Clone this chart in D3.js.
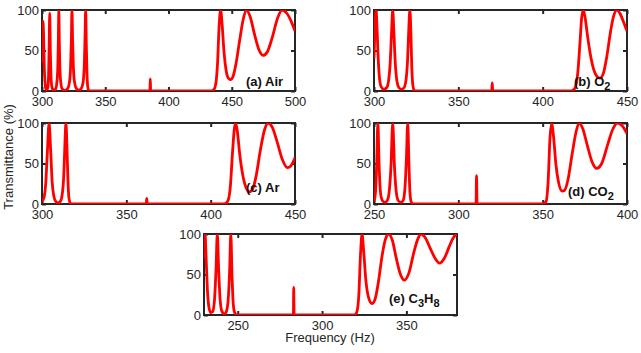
<!DOCTYPE html>
<html>
<head>
<meta charset="utf-8">
<script src="https://cdn.jsdelivr.net/npm/d3@7/dist/d3.min.js"></script>
<style>
  body { margin: 0; background: #fff; }
  svg { display: block; font-family: "Liberation Sans", Arial, sans-serif; }
</style>
</head>
<body>
<svg id="chart" width="641" height="353"></svg>
<script>
// Transmittance (%) vs frequency (Hz), one array per gas.
const airData = [
  [300, 35], [300.4, 72], [300.8, 86], [301.2, 72], [301.7, 35], [302.3, 12], [303, 3], [303.6, 1.5],
  [304.4, 3], [305.1, 15], [305.6, 50], [306.1, 96], [306.6, 50], [307.2, 15], [308, 4], [309.2, 1],
  [310.6, 2], [311.7, 10], [312.5, 30], [312.9, 60], [313.3, 100], [313.7, 60], [314.1, 30],
  [314.9, 10], [316, 2.5], [318, 0.8],
  [320.3, 3], [321.6, 10], [322.6, 30], [323.2, 62], [323.7, 100], [324.2, 62], [324.8, 30],
  [325.8, 10], [327.2, 3], [329, 1],
  [331, 3], [332.4, 10], [333.4, 30], [334, 65], [334.5, 100], [335, 60], [335.5, 25],
  [336.1, 6], [336.8, 1], [337.8, 0],
  [385.3, 0], [385.6, 15], [385.9, 0],
  [434, 0], [436, 2], [437.5, 10], [438.8, 35], [440, 80], [441.2, 100], [442.4, 82],
  [443.7, 52], [445.3, 28], [447.2, 16], [449, 14], [451, 18], [453.5, 35], [456.3, 63],
  [459, 88], [461.7, 100], [464.5, 92], [468, 70], [471.5, 51], [474.7, 44], [478, 48],
  [482, 66], [486, 89], [489.7, 100], [493.5, 96], [497, 86], [500, 74]
];
const o2Data = [
  [300, 40], [300.6, 80], [301.2, 100], [301.8, 78], [302.5, 40], [303.3, 15], [304.3, 5], [305.8, 2],
  [307.5, 4], [308.6, 12], [309.6, 35], [310.4, 72], [311.1, 100], [311.8, 72], [312.6, 35],
  [313.6, 12], [314.8, 4], [316.3, 2],
  [317.8, 4], [319, 14], [319.9, 38], [320.6, 75], [321.3, 100], [321.9, 70], [322.4, 30],
  [323, 8], [323.8, 1], [324.8, 0],
  [369.8, 0], [370.1, 10], [370.4, 0],
  [417, 0], [419, 3], [420.8, 22], [422.2, 62], [423.1, 90], [424.1, 100], [425.2, 90],
  [426.6, 68], [428.2, 46], [430.2, 27], [432.2, 18], [434, 16], [436, 22], [438, 42],
  [440, 70], [442, 92], [444, 100], [446, 95], [448, 85], [450, 74]
];
const arData = [
  [300, 3], [301.2, 8], [302.2, 25], [303.2, 65], [304.2, 100], [305.1, 68], [306, 28],
  [307, 10], [308.2, 3], [309.5, 1.5],
  [310.8, 3], [312, 12], [312.9, 35], [313.6, 75], [314.2, 100], [314.8, 70], [315.4, 28],
  [316, 7], [316.8, 1], [317.8, 0],
  [361.8, 0], [362.1, 7], [362.4, 0],
  [408, 0], [410, 3], [411.6, 20], [413, 65], [414, 92], [414.8, 100], [415.8, 90],
  [417.2, 62], [419, 36], [421, 20], [423, 15], [425, 19], [427, 35], [429.5, 67],
  [432, 92], [434, 100], [436.5, 95], [439.5, 76], [442.5, 55], [445.5, 45], [447.5, 47],
  [450, 57]
];
const co2Data = [
  [250, 3], [250.9, 15], [251.6, 50], [252.3, 100], [253, 50], [253.8, 15], [255, 4], [256.5, 2],
  [257.8, 4], [259, 15], [260.1, 48], [261.1, 100], [262.1, 48], [263.2, 15], [264.4, 4], [265.9, 2],
  [267.2, 4], [268.3, 18], [269.2, 55], [270, 100], [270.7, 50], [271.3, 15], [272, 3], [273, 0],
  [310.5, 0], [310.8, 35], [311.1, 0],
  [350, 0], [352, 3], [353.3, 30], [354.3, 80], [355.4, 100], [356.5, 82], [357.8, 50],
  [359.3, 28], [361.5, 16], [363, 17], [365, 30], [367.5, 62], [369.7, 88], [371.6, 100],
  [373.8, 93], [376.5, 72], [379.3, 52], [382, 44], [385, 50], [388.5, 73], [391.5, 92],
  [394.3, 100], [397, 97], [400, 87]
];
const c3h8Data = [
  [230, 70], [230.6, 100], [231.3, 68], [232, 32], [232.9, 10], [234, 3],
  [235.1, 4], [236.2, 18], [237.1, 55], [237.9, 100], [238.7, 55], [239.6, 18], [240.7, 4], [242, 1.5],
  [243.2, 4], [244.3, 18], [245.2, 55], [245.9, 100], [246.6, 50], [247.3, 15], [248.2, 3], [249.5, 0],
  [283, 0], [283.2, 34], [283.4, 0],
  [319, 0], [320.5, 3], [321.8, 25], [322.8, 75], [323.7, 100], [324.7, 78], [326, 42],
  [327.5, 22], [329.6, 14], [331.5, 20], [333.5, 42], [335.5, 72], [337.5, 93], [339.5, 100],
  [341.7, 92], [344, 70], [346.5, 50], [348.8, 43], [351.5, 52], [354.5, 78], [356.8, 94],
  [358.7, 100], [361, 96], [364, 83], [367, 70], [369.6, 64], [372.5, 70], [375.5, 85],
  [378, 96], [380, 100]
];

const yTicks = [0, 50, 100];
const ticksA = [300, 350, 400, 450, 500];
const ticksB = [300, 350, 400, 450];
const ticksD = [250, 300, 350, 400];
const ticksE = [250, 300, 350];

// panel labels: [text, isSubscript]
const labelA = [["(a) Air", false]];
const labelB = [["(b) O", false], ["2", true]];
const labelC = [["(c) Ar", false]];
const labelD = [["(d) CO", false], ["2", true]];
const labelE = [["(e) C", false], ["3", true], ["H", false], ["8", true]];

const W = 253, H = 81;
const axisColor = "#262626";

const panels = [
  { data: airData,  domain: [300, 500], ticks: ticksA, label: labelA, x: 42,  y: 10,  lx: 204, ly: 76 },
  { data: o2Data,   domain: [300, 450], ticks: ticksB, label: labelB, x: 374, y: 10,  lx: 200, ly: 76 },
  { data: arData,   domain: [300, 450], ticks: ticksB, label: labelC, x: 42,  y: 123, lx: 204, ly: 69 },
  { data: co2Data,  domain: [250, 400], ticks: ticksD, label: labelD, x: 374, y: 123, lx: 194, ly: 73 },
  { data: c3h8Data, domain: [230, 380], ticks: ticksE, label: labelE, x: 204, y: 234, lx: 185, ly: 69 }
];

const svg = d3.select("#chart");

panels.forEach((p, i) => {
  const g = svg.append("g").attr("transform", `translate(${p.x},${p.y})`);
  const x = d3.scaleLinear().domain(p.domain).range([0, W]);
  const y = d3.scaleLinear().domain([0, 100]).range([H, 0]);

  g.append("clipPath").attr("id", "clip" + i)
    .append("rect").attr("width", W).attr("height", H);

  g.append("rect")
    .attr("width", W).attr("height", H)
    .attr("fill", "none")
    .attr("stroke", axisColor)
    .attr("stroke-width", 2);

  // inward ticks on all four sides, labels only bottom/left
  const axes = [
    g.append("g").attr("transform", `translate(0,${H})`)
      .call(d3.axisBottom(x).tickValues(p.ticks).tickSizeInner(-4).tickSizeOuter(0).tickPadding(6)),
    g.append("g")
      .call(d3.axisTop(x).tickValues(p.ticks).tickSizeInner(-4).tickSizeOuter(0).tickFormat("")),
    g.append("g")
      .call(d3.axisLeft(y).tickValues(yTicks).tickSizeInner(-4).tickSizeOuter(0).tickPadding(3)),
    g.append("g").attr("transform", `translate(${W},0)`)
      .call(d3.axisRight(y).tickValues(yTicks).tickSizeInner(-4).tickSizeOuter(0).tickFormat(""))
  ];
  axes.forEach(a => {
    a.select(".domain").remove();
    a.selectAll(".tick line").attr("stroke", axisColor).attr("stroke-width", 2);
    a.selectAll(".tick text")
      .attr("fill", axisColor)
      .style("font-size", "13px")
      .style("font-family", "'Liberation Sans', Arial, sans-serif");
  });

  const line = d3.line()
    .x(d => x(d[0]))
    .y(d => y(d[1]))
    .curve(d3.curveMonotoneX);

  g.append("path")
    .datum(p.data)
    .attr("clip-path", `url(#clip${i})`)
    .attr("fill", "none")
    .attr("stroke", "#ff0000")
    .attr("stroke-width", 2.8)
    .attr("stroke-linejoin", "round")
    .attr("d", line);

  const t = g.append("text")
    .attr("x", p.lx).attr("y", p.ly)
    .attr("fill", "#111")
    .style("font-size", "13px")
    .style("font-weight", "bold");
  let low = false;
  p.label.forEach(([s, sub]) => {
    const ts = t.append("tspan").text(s);
    if (sub && !low) { ts.attr("dy", 4).style("font-size", "11px"); low = true; }
    else if (sub) { ts.style("font-size", "11px"); }
    else if (low) { ts.attr("dy", -4); low = false; }
  });
});

svg.append("text")
  .attr("transform", "translate(13,157) rotate(-90)")
  .attr("text-anchor", "middle")
  .attr("fill", axisColor)
  .style("font-size", "13px")
  .text("Transmittance (%)");

svg.append("text")
  .attr("x", 330).attr("y", 342)
  .attr("text-anchor", "middle")
  .attr("fill", axisColor)
  .style("font-size", "13px")
  .text("Frequency (Hz)");
</script>
</body>
</html>
